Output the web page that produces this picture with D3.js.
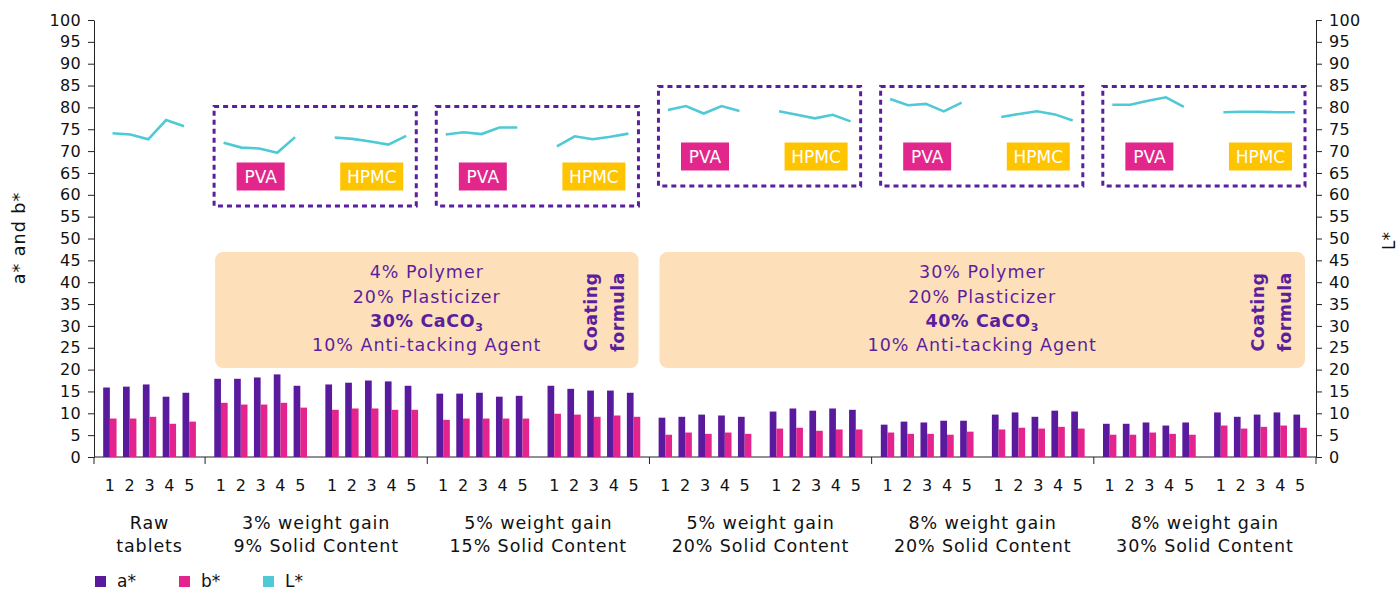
<!DOCTYPE html>
<html>
<head>
<meta charset="utf-8">
<script src="https://cdn.jsdelivr.net/npm/d3@7"></script>
<style>
  body { margin: 0; background: #fff; }
  svg { display: block; font-family: "DejaVu Sans", Verdana, sans-serif; }
</style>
</head>
<body>
<svg id="chart" width="1398" height="590"></svg>
<script>
// sample numbers inside every sub group
var samples = ["1", "2", "3", "4", "5"]

// 11 sub groups: raw tablets, then PVA / HPMC for each coating condition
var polymers = ["", "PVA", "HPMC", "PVA", "HPMC", "PVA", "HPMC", "PVA", "HPMC", "PVA", "HPMC"]

var aStar = [
  [15.9, 16.1, 16.6, 13.8, 14.7],
  [17.9, 17.9, 18.2, 18.9, 16.3],
  [16.6, 17.0, 17.5, 17.3, 16.3],
  [14.5, 14.5, 14.7, 13.8, 14.0],
  [16.3, 15.6, 15.2, 15.2, 14.7],
  [9.0, 9.2, 9.7, 9.5, 9.2],
  [10.4, 11.1, 10.6, 11.1, 10.8],
  [7.4, 8.1, 7.9, 8.3, 8.3],
  [9.7, 10.2, 9.2, 10.6, 10.4],
  [7.6, 7.6, 7.9, 7.2, 7.9],
  [10.2, 9.2, 9.7, 10.2, 9.7]
]

var bStar = [
  [8.8, 8.8, 9.2, 7.6, 8.1],
  [12.4, 12.0, 12.0, 12.4, 11.3],
  [10.8, 11.1, 11.1, 10.8, 10.8],
  [8.5, 8.8, 8.8, 8.8, 8.8],
  [9.9, 9.7, 9.2, 9.5, 9.2],
  [5.1, 5.6, 5.3, 5.6, 5.3],
  [6.5, 6.7, 6.0, 6.3, 6.3],
  [5.6, 5.3, 5.3, 5.1, 5.8],
  [6.3, 6.7, 6.5, 6.9, 6.5],
  [5.1, 5.1, 5.6, 5.3, 5.1],
  [7.2, 6.5, 6.9, 7.2, 6.7]
]

var lStar = [
  [74.1, 73.8, 72.7, 77.1, 75.7],
  [71.9, 70.8, 70.6, 69.6, 73.2],
  [73.1, 72.8, 72.2, 71.5, 73.5],
  [73.8, 74.3, 73.9, 75.4, 75.4],
  [71.1, 73.4, 72.7, 73.3, 74.0],
  [79.4, 80.3, 78.6, 80.3, 79.2],
  [79.1, 78.3, 77.5, 78.3, 76.8],
  [81.9, 80.5, 80.8, 79.1, 81.1],
  [77.8, 78.5, 79.1, 78.4, 77.0],
  [80.6, 80.6, 81.5, 82.3, 80.1],
  [78.9, 79.0, 79.0, 78.9, 78.9]
]

// main groups: first/last sub group index and the two line label
var groupLabels = [
  {from: 0, to: 0, lines: ["Raw", "tablets"]},
  {from: 1, to: 2, lines: ["3% weight gain", "9% Solid Content"]},
  {from: 3, to: 4, lines: ["5% weight gain", "15% Solid Content"]},
  {from: 5, to: 6, lines: ["5% weight gain", "20% Solid Content"]},
  {from: 7, to: 8, lines: ["8% weight gain", "20% Solid Content"]},
  {from: 9, to: 10, lines: ["8% weight gain", "30% Solid Content"]}
]

var formulas = [
  {from: 1, to: 4, lines: ["4% Polymer", "20% Plasticizer", "30% CaCO", "10% Anti-tacking Agent"]},
  {from: 5, to: 10, lines: ["30% Polymer", "20% Plasticizer", "40% CaCO", "10% Anti-tacking Agent"]}
]

var yTicks = d3.range(0, 101, 5)

var colors = {a: "#5a1a9e", b: "#e3248e", L: "#4ecad6", purple: "#5b1f9e"}

var svg = d3.select("#chart")

var x0 = d3.scaleBand().domain(d3.range(11)).range([94, 1316])
var x1 = d3.scaleBand().domain(samples).range([0, x0.bandwidth()]).paddingOuter(0.3)
var x2 = d3.scaleBand().domain(["a", "b"]).range([0, x1.bandwidth()]).paddingOuter(0.48)
var xL = d3.scalePoint().domain(samples).range([18.5, 90])
var y = d3.scaleLinear().domain([0, 100]).range([457, 20])

// axes
var left = svg.append("g").attr("transform", "translate(94,0)")
  .call(d3.axisLeft(y).tickValues(yTicks).tickSize(6).tickPadding(7).tickSizeOuter(0))
var right = svg.append("g").attr("transform", "translate(1316,0)")
  .call(d3.axisRight(y).tickValues(yTicks).tickSize(6).tickPadding(7).tickSizeOuter(0))
svg.selectAll(".tick text").attr("font-size", 16).attr("fill", "#111").attr("font-family", "DejaVu Sans")
  .attr("letter-spacing", 0.3)
svg.selectAll(".domain, .tick line").attr("stroke", "#222")

// x axis line with ticks at main group borders
svg.append("line").attr("x1", 94).attr("x2", 1316).attr("y1", y(0)).attr("y2", y(0)).attr("stroke", "#222")
var borders = [0].concat(groupLabels.map(function(g) { return g.to + 1 }))
svg.selectAll(".xtick").data(borders).enter().append("line")
  .attr("x1", function(d) { return d < 11 ? x0(d) : 1316 })
  .attr("x2", function(d) { return d < 11 ? x0(d) : 1316 })
  .attr("y1", y(0)).attr("y2", y(0) + 7).attr("stroke", "#222")

// orange coating formula boxes
formulas.forEach(function(f) {
  var bx = x0(f.from) + 10, ex = x0(f.to) + x0.bandwidth() - 11
  var top = 252, g = svg.append("g")
  g.append("rect").attr("x", bx).attr("y", top).attr("width", ex - bx).attr("height", 116)
    .attr("rx", 8).attr("fill", "#fde0b9")
  var cx = (bx + ex) / 2
  var offs = [26, 51, 75, 99]
  f.lines.forEach(function(t, i) {
    var tx = g.append("text").attr("x", cx).attr("y", top + offs[i]).attr("text-anchor", "middle")
      .attr("font-size", 17.5).attr("letter-spacing", 1).attr("fill", colors.purple)
    if (i == 2) {
      tx.attr("font-weight", "bold").attr("letter-spacing", 0.6).text(t)
      tx.append("tspan").attr("font-size", 11).attr("dy", 4).text("3")
    } else tx.text(t)
  })
  ;["Coating", "formula"].forEach(function(t, i) {
    g.append("text").attr("transform", "translate(" + (ex - 41 + i * 27) + "," + (top + 60) + ") rotate(-90)")
      .attr("text-anchor", "middle").attr("font-size", 17.5).attr("font-weight", "bold")
      .attr("letter-spacing", 0.4).attr("fill", colors.purple).text(t)
  })
})

// dotted boxes around each PVA / HPMC pair
groupLabels.slice(1).forEach(function(g) {
  var hi = g.from >= 5
  var top = hi ? 86.5 : 106.5, bot = hi ? 186 : 206
  var bx = x0(g.from) + 9, ex = x0(g.to) + x0.bandwidth() - 11
  svg.append("rect").attr("x", bx).attr("y", top).attr("width", ex - bx).attr("height", bot - top)
    .attr("fill", "none").attr("stroke", colors.purple).attr("stroke-width", 3)
    .attr("stroke-dasharray", "5,4")
  ;[g.from, g.to].forEach(function(s) {
    var w = polymers[s] == "PVA" ? 48 : 63
    var cx = x0(s) + x0.bandwidth() / 2
    svg.append("rect").attr("x", cx - w / 2).attr("y", top + 56).attr("width", w).attr("height", 28)
      .attr("fill", polymers[s] == "PVA" ? "#e2268c" : "#ffc400")
    svg.append("text").attr("x", cx).attr("y", top + 76.5).attr("text-anchor", "middle")
      .attr("font-size", 17).attr("fill", "#fff").text(polymers[s])
  })
})

// bars
var sub = svg.selectAll(".sub").data(d3.range(11)).enter().append("g")
  .attr("transform", function(d) { return "translate(" + x0(d) + ",0)" })

sub.selectAll(".bar").data(function(s) {
  var out = []
  samples.forEach(function(k, i) {
    out.push({s: k, key: "a", v: aStar[s][i]})
    out.push({s: k, key: "b", v: bStar[s][i]})
  })
  return out
}).enter().append("rect")
  .attr("x", function(d) { return x1(d.s) + x2(d.key) })
  .attr("width", x2.bandwidth())
  .attr("y", function(d) { return y(d.v) })
  .attr("height", function(d) { return y(0) - y(d.v) })
  .attr("fill", function(d) { return d.key == "a" ? colors.a : colors.b })

// L* lines, one per sub group
var line = d3.line().x(function(d, i) { return xL(samples[i]) }).y(function(d) { return y(d) })
sub.append("path").attr("d", function(s) { return line(lStar[s]) })
  .attr("fill", "none").attr("stroke", colors.L).attr("stroke-width", 2.6)

// sample numbers
sub.selectAll(".num").data(samples).enter().append("text")
  .attr("x", function(d) { return x1(d) + x1.bandwidth() / 2 })
  .attr("y", 491).attr("text-anchor", "middle").attr("font-size", 16).attr("fill", "#111")
  .text(function(d) { return d })

// group labels
groupLabels.forEach(function(g) {
  var cx = (x0(g.from) + x0(g.to) + x0.bandwidth()) / 2
  g.lines.forEach(function(t, i) {
    svg.append("text").attr("x", cx).attr("y", 529 + i * 22.5).attr("text-anchor", "middle")
      .attr("font-size", 17.5).attr("letter-spacing", 0.9).attr("fill", "#111").text(t)
  })
})

// axis titles
svg.append("text").attr("transform", "translate(25,238) rotate(-90)").attr("text-anchor", "middle")
  .attr("font-size", 17.5).attr("letter-spacing", 1).attr("fill", "#111").text("a* and b*")
svg.append("text").attr("transform", "translate(1395,241) rotate(-90)").attr("text-anchor", "middle")
  .attr("font-size", 17).attr("fill", "#111").text("L*")

// legend
var legend = [{k: "a*", c: colors.a, x: 95}, {k: "b*", c: colors.b, x: 179}, {k: "L*", c: colors.L, x: 263}]
legend.forEach(function(l) {
  svg.append("rect").attr("x", l.x).attr("y", 576).attr("width", 11).attr("height", 11).attr("fill", l.c)
  svg.append("text").attr("x", l.x + 22).attr("y", 587).attr("font-size", 17).attr("fill", "#111").text(l.k)
})
</script>
</body>
</html>
